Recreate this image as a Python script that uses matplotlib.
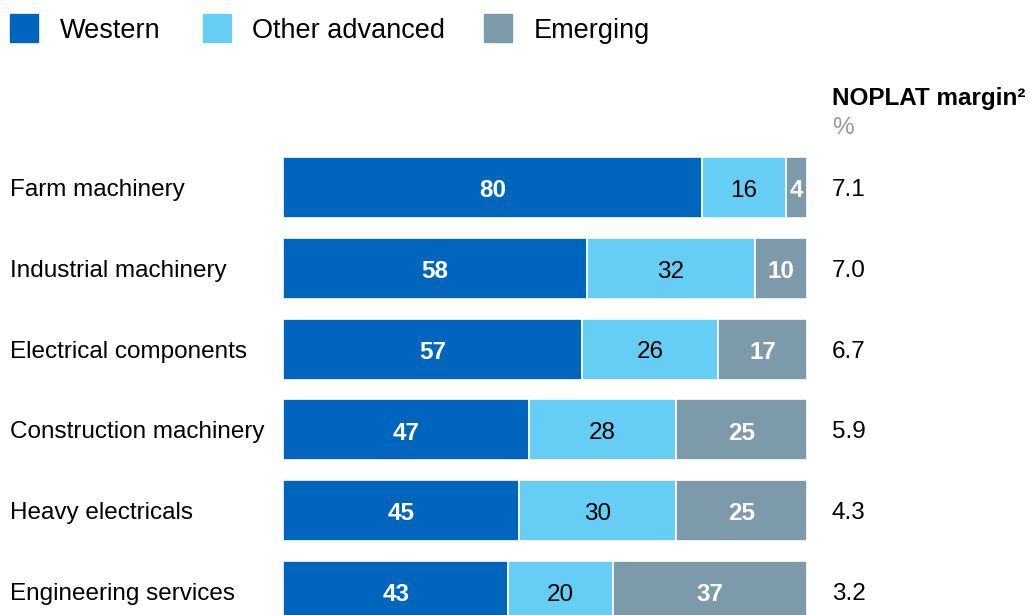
import matplotlib.pyplot as plt
from matplotlib.patches import Rectangle
import numpy as np

plt.rcParams['font.family'] = ['Liberation Sans', 'DejaVu Sans']

# данные
categories = ['Farm machinery', 'Industrial machinery', 'Electrical components',
              'Construction machinery', 'Heavy electricals', 'Engineering services']
western = [80, 58, 57, 47, 45, 43]
other_adv = [16, 32, 26, 28, 30, 20]
emerging = [4, 10, 17, 25, 25, 37]
noplat = ['7.1', '7.0', '6.7', '5.9', '4.3', '3.2']

series_names = ['Western', 'Other advanced', 'Emerging']
colors = ['#0065BD', '#66CEF5', '#7D9AAA']
text_colors = ['white', 'black', 'white']
text_weights = ['bold', 'normal', 'bold']

W, H = 1030, 615
fs = 17.5
fig = plt.figure(figsize=(W / 100, H / 100), dpi=100)

# оси под полосы: пиксели 283..807 по x
ax = fig.add_axes([283 / W, 0, 524 / W, 1])
y = np.arange(len(categories))
pitch = 80.8
top = 187.5 / pitch
ax.set_ylim((H - 187.5) / pitch, -top)
ax.set_xlim(0, 100)
ax.axis('off')

left = np.zeros(len(categories))
for vals, col, tc, tw in zip([western, other_adv, emerging], colors, text_colors, text_weights):
    vals = np.array(vals, dtype=float)
    ax.barh(y, vals, left=left, height=0.755, color=col, edgecolor='white', linewidth=1.2)
    for i, v in enumerate(vals):
        ax.text(left[i] + v / 2, y[i] + 0.04, f'{int(v)}', ha='center', va='center',
                color=tc, fontweight=tw, fontsize=fs)
    left += vals

# подписи категорий и NOPLAT
tr = ax.get_yaxis_transform()
for i, cat in enumerate(categories):
    ax.text(-273 / 524, y[i] + 0.03, cat, transform=tr, ha='left', va='center', fontsize=fs)
    ax.text(549 / 524, y[i] + 0.03, noplat[i], transform=tr, ha='left', va='center', fontsize=fs)

fig.text(832 / W, 1 - 99 / H, 'NOPLAT margin²', ha='left', va='center',
         fontsize=fs, fontweight='bold')
fig.text(832 / W, 1 - 128 / H, '%', ha='left', va='center', fontsize=fs, color='#999999')

# легенда
sq_x = [10, 203, 484]
txt_x = [60, 252, 534]
for name, col, sx, tx in zip(series_names, colors, sq_x, txt_x):
    fig.patches.append(Rectangle((sx / W, 1 - 42 / H), 28 / W, 28 / H,
                                 transform=fig.transFigure, color=col))
    fig.text(tx / W, 1 - 31 / H, name, ha='left', va='center', fontsize=19.5)

fig.savefig('out.png', dpi=100)
